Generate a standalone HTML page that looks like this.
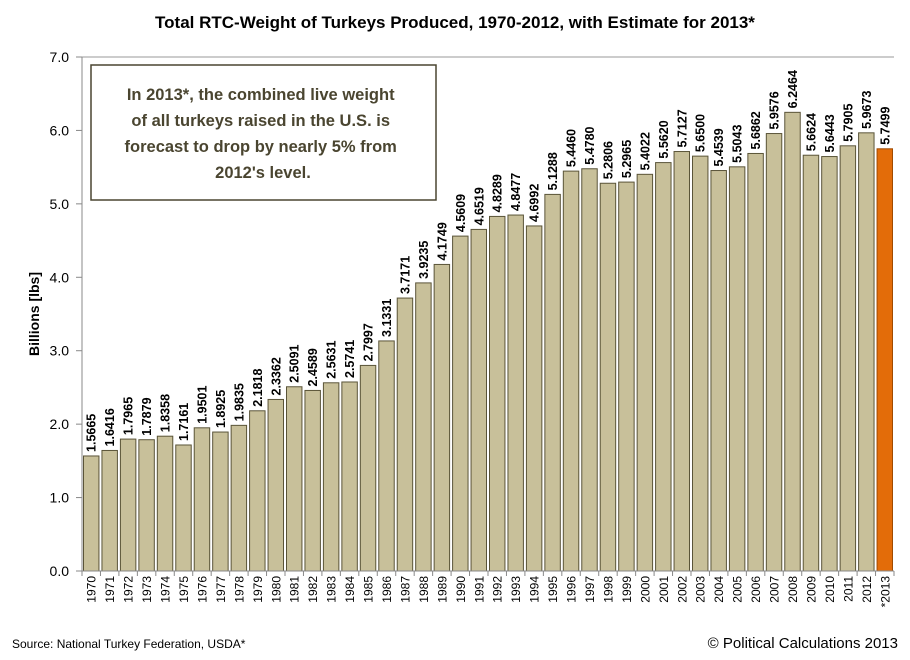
<!DOCTYPE html>
<html><head><meta charset="utf-8"><style>
body{margin:0;background:#fff;}
svg{display:block;font-family:"Liberation Sans",sans-serif;}
</style></head><body>
<svg id="c" width="910" height="660">
<text x="455" y="28" text-anchor="middle" font-size="17" font-weight="bold">Total RTC-Weight of Turkeys Produced, 1970-2012, with Estimate for 2013*</text>
<text transform="translate(39,314) rotate(-90)" text-anchor="middle" font-size="14" font-weight="bold">Billions [lbs]</text>
<g id="grid"></g><g id="bars"></g><g id="axes"></g>
<g>
<rect x="91" y="65" width="345" height="135" fill="#fff" stroke="#4a4530" stroke-width="1.5"/>
<text font-size="16.5" font-weight="bold" fill="#4a4530" text-anchor="middle">
<tspan x="263" y="100">In 2013*, the combined live weight</tspan>
<tspan x="263" y="126">of all turkeys raised in the U.S. is</tspan>
<tspan x="263" y="152">forecast to drop by nearly 5% from</tspan>
<tspan x="263" y="178">2012's level.</tspan></text></g>
<text x="12" y="648" font-size="12">Source: National Turkey Federation, USDA*</text>
<text x="898" y="648" font-size="15" text-anchor="end">© Political Calculations 2013</text>
</svg>
<script>
const years=["1970","1971","1972","1973","1974","1975","1976","1977","1978","1979","1980","1981","1982","1983","1984","1985","1986","1987","1988","1989","1990","1991","1992","1993","1994","1995","1996","1997","1998","1999","2000","2001","2002","2003","2004","2005","2006","2007","2008","2009","2010","2011","2012","*2013"];
const values=[1.5665,1.6416,1.7965,1.7879,1.8358,1.7161,1.9501,1.8925,1.9835,2.1818,2.3362,2.5091,2.4589,2.5631,2.5741,2.7997,3.1331,3.7171,3.9235,4.1749,4.5609,4.6519,4.8289,4.8477,4.6992,5.1288,5.4460,5.4780,5.2806,5.2965,5.4022,5.5620,5.7127,5.6500,5.4539,5.5043,5.6862,5.9576,6.2464,5.6624,5.6443,5.7905,5.9673,5.7499];
const yTicks=[0,1,2,3,4,5,6,7];
const X0=82,X1=894,Y0=571,Y1=57,YMAX=7;
const ns="http://www.w3.org/2000/svg";
const bw=(X1-X0)/years.length;
const y=v=>Y0-(v/YMAX)*(Y0-Y1);
const x=i=>X0+i*bw;
function mk(t,a,p){const e=document.createElementNS(ns,t);for(const k in a)e.setAttribute(k,a[k]);p.appendChild(e);return e;}
const G=document.getElementById('grid'),B=document.getElementById('bars'),A=document.getElementById('axes');
yTicks.forEach(t=>{
 const l=mk('line',{x1:X0-6,x2:X0,y1:y(t),y2:y(t),stroke:'#888'},A);
 
 
 if(t==7){const g=mk('line',{x1:X0,x2:X1,y1:y(t),y2:y(t),stroke:'#999'},G);}
 const tx=mk('text',{x:X0-13,y:y(t)+5,'text-anchor':'end','font-size':14},A);tx.textContent=t.toFixed(1);
 
 
});
mk('line',{x1:X0,x2:X0,y1:Y1,y2:Y0,stroke:'#888'},A);
mk('line',{x1:X0,x2:X1,y1:Y0,y2:Y0,stroke:'#888'},A);
values.forEach((v,i)=>{
 const last=i==values.length-1;
 const r=mk('rect',{x:x(i)+1.5,y:y(v),width:bw-3,height:Y0-y(v),fill:last?'#e36c09':'#c8c09a',stroke:last?'#a04a00':'#5a5438','stroke-width':1},B);
 
 
 const cx=x(i)+bw/2;
 const t=mk('text',{transform:`translate(${cx+4.5},${y(v)-4}) rotate(-90)`,'font-size':12.5,'font-weight':'bold'},B);t.textContent=v.toFixed(4);
 
 
 mk('line',{x1:x(i),x2:x(i),y1:Y0,y2:Y0+5,stroke:'#888'},A);
 const yl=mk('text',{transform:`translate(${cx+4.5},${Y0+5}) rotate(-90)`,'font-size':12,'text-anchor':'end'},A);yl.textContent=years[i];
 
 
});
mk('line',{x1:X1,x2:X1,y1:Y0,y2:Y0+5,stroke:'#888'},A);
</script>
</body></html>
